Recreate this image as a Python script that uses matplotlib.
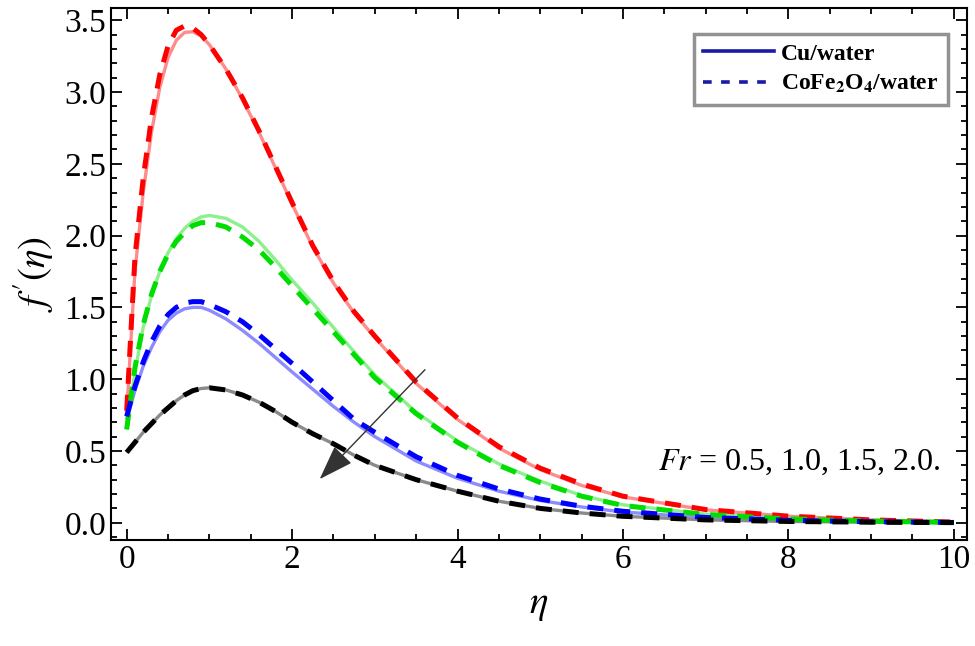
import matplotlib.pyplot as plt
from matplotlib.ticker import MultipleLocator

plt.rcParams['font.family'] = ['Liberation Serif', 'DejaVu Serif']
plt.rcParams['mathtext.fontset'] = 'stix'

eta = [0, 0.1, 0.2, 0.3, 0.4, 0.5, 0.6, 0.7, 0.8, 0.9, 1.0, 1.2, 1.4, 1.6, 1.8,
       2.0, 2.25, 2.5, 2.75, 3.0, 3.5, 4.0, 4.5, 5.0, 5.5, 6, 7, 8, 9, 10]

# Cu/water (solid)
cu_fr05 = [0.76, 1.75, 2.30, 2.72, 3.03, 3.24, 3.36, 3.415, 3.42, 3.39, 3.33, 3.16, 2.95, 2.72, 2.47,
           2.22, 1.92, 1.67, 1.46, 1.29, 0.97, 0.72, 0.52, 0.37, 0.26, 0.18, 0.09, 0.045, 0.02, 0.005]
cu_fr10 = [0.65, 1.05, 1.36, 1.58, 1.75, 1.88, 1.98, 2.05, 2.10, 2.13, 2.14, 2.12, 2.06, 1.96, 1.83,
           1.69, 1.53, 1.36, 1.19, 1.03, 0.77, 0.57, 0.41, 0.29, 0.19, 0.125, 0.06, 0.028, 0.012, 0.004]
cu_fr15 = [0.72, 0.92, 1.09, 1.22, 1.33, 1.41, 1.46, 1.49, 1.50, 1.50, 1.48, 1.42, 1.34, 1.25, 1.15,
           1.05, 0.93, 0.81, 0.70, 0.60, 0.43, 0.31, 0.22, 0.155, 0.11, 0.075, 0.035, 0.016, 0.007, 0.002]
cu_fr20 = [0.49, 0.56, 0.63, 0.69, 0.75, 0.80, 0.85, 0.89, 0.92, 0.935, 0.94, 0.925, 0.89, 0.84, 0.775,
           0.70, 0.62, 0.55, 0.47, 0.40, 0.30, 0.22, 0.15, 0.10, 0.068, 0.045, 0.02, 0.009, 0.004, 0.001]

# CoFe2O4/water (dashed)
co_fr05 = [0.78, 1.85, 2.40, 2.82, 3.12, 3.32, 3.43, 3.46, 3.445, 3.40, 3.33, 3.16, 2.96, 2.73, 2.48,
           2.23, 1.93, 1.68, 1.47, 1.30, 0.98, 0.73, 0.53, 0.38, 0.27, 0.185, 0.092, 0.046, 0.02, 0.005]
co_fr10 = [0.65, 1.08, 1.38, 1.59, 1.75, 1.87, 1.96, 2.02, 2.07, 2.09, 2.09, 2.06, 1.99, 1.90, 1.78,
           1.65, 1.49, 1.33, 1.17, 1.01, 0.76, 0.56, 0.40, 0.28, 0.185, 0.12, 0.058, 0.027, 0.011, 0.003]
co_fr15 = [0.74, 0.95, 1.12, 1.26, 1.37, 1.45, 1.50, 1.53, 1.54, 1.54, 1.52, 1.47, 1.40, 1.31, 1.21,
           1.11, 0.98, 0.85, 0.72, 0.63, 0.46, 0.33, 0.235, 0.165, 0.115, 0.08, 0.037, 0.017, 0.007, 0.002]
co_fr20 = [0.49, 0.56, 0.63, 0.69, 0.75, 0.80, 0.85, 0.89, 0.92, 0.935, 0.94, 0.925, 0.89, 0.84, 0.775,
           0.70, 0.62, 0.55, 0.47, 0.40, 0.30, 0.22, 0.15, 0.10, 0.068, 0.045, 0.02, 0.009, 0.004, 0.001]

solid_colors = ['#ff8c8c', '#8cf08c', '#8c8cff', '#8a8a8a']
dash_colors = ['#ff0000', '#00dd00', '#0000ff', '#000000']

fig = plt.figure(figsize=(9.75, 6.46), dpi=100)
ax = fig.add_axes([0.1138, 0.1641, 0.878, 0.8235])

for ys, c in zip([cu_fr05, cu_fr10, cu_fr15, cu_fr20], solid_colors):
    ax.plot(eta, ys, color=c, lw=2.4, solid_capstyle='butt', solid_joinstyle='round')
for ys, c in zip([co_fr05, co_fr10, co_fr15, co_fr20], dash_colors):
    ax.plot(eta, ys, color=c, lw=3.6, dashes=(3.2, 2.2))

# legend handles
h1, = ax.plot([], [], color='#1a1aa6', lw=2.6)
h2, = ax.plot([], [], color='#1a1aa6', lw=2.6, dashes=(2.4, 2.6))
leg = ax.legend([h1, h2], ['Cu/water', r'CoFe$_\mathbf{2}$O$_\mathbf{4}$/water'],
                loc='upper right', bbox_to_anchor=(0.978, 0.952), borderaxespad=0,
                fancybox=False, handlelength=3.0, handletextpad=0.3,
                prop={'weight': 'bold', 'size': 17}, labelspacing=0.35,
                borderpad=0.4)
leg.get_frame().set_edgecolor('#777777')
leg.get_frame().set_linewidth(2.5)

ax.annotate('', xy=(2.31, 0.29), xytext=(3.63, 1.08),
            arrowprops=dict(arrowstyle='-|>,head_length=1.1,head_width=0.38',
                            color='#333333', lw=1.0, mutation_scale=20))
ax.text(6.42, 0.42, r'$Fr$ = 0.5, 1.0, 1.5, 2.0.', fontsize=23, va='center')

ax.set_xlim(-0.19, 10.16)
ax.set_ylim(-0.12, 3.585)
ax.xaxis.set_major_locator(MultipleLocator(2))
ax.xaxis.set_minor_locator(MultipleLocator(0.5))
ax.yaxis.set_major_locator(MultipleLocator(0.5))
ax.yaxis.set_minor_locator(MultipleLocator(0.1))
ax.yaxis.set_major_formatter(lambda v, p: f'{v:.1f}')
ax.tick_params(which='both', direction='in', top=True, right=True, labelsize=24, width=1.3)
ax.tick_params(which='major', length=8)
ax.tick_params(which='minor', length=4)
for s in ax.spines.values():
    s.set_linewidth(1.5)

ax.set_xlabel(r'$\eta$', fontsize=28, labelpad=8)
ax.set_ylabel(r"$f\,'(\eta)$", fontsize=28, labelpad=6)

fig.savefig('out.png', dpi=100)
